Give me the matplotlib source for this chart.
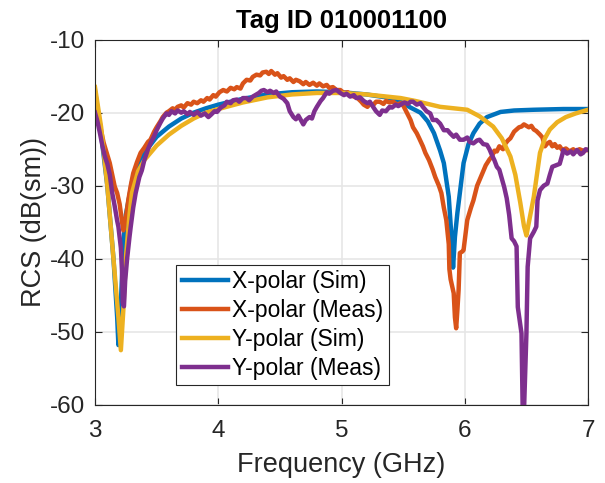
import matplotlib.pyplot as plt
import numpy as np

plt.rcParams['font.family'] = ['Liberation Sans', 'DejaVu Sans']
plt.rcParams['axes.unicode_minus'] = False

# X-polar (Sim)
xsim_f = [3.00, 3.05, 3.10, 3.15, 3.18, 3.19, 3.21, 3.23, 3.25, 3.30, 3.35, 3.40, 3.50, 3.60,
          3.70, 3.80, 3.90, 4.00, 4.20, 4.40, 4.60, 4.80, 5.00, 5.20, 5.40, 5.48, 5.56, 5.64,
          5.70, 5.75, 5.80, 5.83, 5.87, 5.89, 5.905, 5.92, 5.94, 5.99, 6.03, 6.07, 6.12, 6.18,
          6.29, 6.40, 6.56, 6.80, 7.00]
xsim_db = [-17.0, -23.0, -30.0, -40.0, -48.0, -51.8, -46.0, -38.0, -34.0, -29.5, -27.0, -25.5,
           -23.3, -21.9, -20.8, -20.0, -19.4, -18.9, -18.1, -17.5, -17.2, -17.1, -17.2, -17.5,
           -18.0, -18.5, -19.3, -20.0, -21.2, -22.8, -25.2, -26.9, -31.5, -36.5, -41.2, -37.0,
           -33.7, -26.9, -24.3, -22.8, -21.5, -20.6, -19.9, -19.7, -19.6, -19.5, -19.5]

# X-polar (Meas)
xmeas_f = [3.00, 3.03, 3.05, 3.07, 3.10, 3.12, 3.14, 3.16, 3.18, 3.20, 3.22, 3.23, 3.25, 3.27,
           3.29, 3.31, 3.34, 3.37, 3.40, 3.43, 3.45, 3.48, 3.50, 3.53, 3.55, 3.58, 3.60, 3.63,
           3.65, 3.67, 3.70, 3.72, 3.75, 3.78, 3.80, 3.83, 3.86, 3.88, 3.91, 3.93, 3.96, 3.98,
           4.01, 4.04, 4.07, 4.10, 4.13, 4.15, 4.18, 4.20, 4.23, 4.26, 4.28, 4.31, 4.34, 4.36,
           4.39, 4.41, 4.43, 4.46, 4.48, 4.51, 4.53, 4.56, 4.58, 4.61, 4.63, 4.66, 4.69, 4.71,
           4.74, 4.77, 4.80, 4.82, 4.85, 4.88, 4.90, 4.93, 4.96, 4.99, 5.02, 5.05, 5.08, 5.10,
           5.13, 5.16, 5.18, 5.21, 5.23, 5.26, 5.28, 5.31, 5.34, 5.36, 5.39, 5.42, 5.45, 5.48,
           5.50, 5.53, 5.56, 5.58, 5.61, 5.63, 5.66, 5.68, 5.71, 5.74, 5.76, 5.79, 5.81, 5.83,
           5.85, 5.87, 5.875, 5.885, 5.91, 5.92, 5.93, 5.94, 5.95, 5.96, 5.98, 5.99, 6.01, 6.02,
           6.05, 6.07, 6.10, 6.12, 6.15, 6.17, 6.20, 6.22, 6.24, 6.26, 6.28, 6.31, 6.33, 6.35,
           6.37, 6.40, 6.42, 6.44, 6.46, 6.48, 6.50, 6.52, 6.54, 6.56, 6.58, 6.61, 6.63, 6.65,
           6.67, 6.69, 6.71, 6.73, 6.75, 6.77, 6.79, 6.82, 6.85, 6.88, 6.90, 6.93, 6.96, 7.00]
xmeas_db = [-17.5, -20.5, -22.5, -24.1, -25.8, -26.9, -28.5, -30.1, -31.0, -32.5, -35.0, -36.1,
            -34.5, -32.0, -30.0, -28.3, -26.8, -25.5, -24.8, -24.0, -23.7, -22.6, -22.0, -21.2,
            -20.6, -20.0, -19.8, -19.4, -19.6, -19.2, -19.0, -19.3, -18.7, -18.9, -18.5, -18.7,
            -18.3, -18.5, -18.0, -18.2, -17.6, -17.8, -17.2, -16.9, -17.1, -16.6, -16.8, -16.5,
            -16.7, -16.0, -15.5, -15.6, -15.1, -14.8, -14.9, -14.5, -14.4, -14.7, -14.3, -14.8,
            -14.6, -15.2, -15.0, -15.5, -15.3, -15.8, -15.5, -15.7, -16.1, -15.8, -16.2, -15.9,
            -16.3, -16.0, -16.4, -16.2, -16.6, -16.5, -16.9, -16.9, -17.3, -17.2, -17.6, -17.8,
            -18.0, -18.5, -18.9, -19.2, -18.8, -18.9, -18.5, -18.5, -18.8, -18.4, -18.6, -18.5,
            -18.9, -18.7, -19.0, -20.0, -21.0, -22.0, -22.8, -23.5, -24.6, -25.5, -26.5, -27.8,
            -28.8, -30.0, -31.0, -33.0, -34.7, -38.0, -41.4, -42.8, -44.7, -48.0, -49.5, -47.0,
            -44.2, -39.2, -39.0, -38.8, -36.0, -34.7, -33.0, -32.0, -30.0, -29.2, -28.0, -27.2,
            -26.4, -26.0, -25.2, -25.3, -24.6, -25.0, -24.2, -23.8, -23.5, -22.6, -22.3, -22.0,
            -21.9, -21.6, -21.8, -22.0, -21.8, -22.3, -22.5, -23.0, -23.4, -24.6, -24.2, -24.0,
            -24.6, -24.3, -24.8, -24.6, -25.1, -24.9, -25.3, -25.0, -25.3, -25.0, -25.2, -25.1]

# Y-polar (Sim)
ysim_f = [3.00, 3.05, 3.10, 3.15, 3.19, 3.21, 3.23, 3.25, 3.28, 3.30, 3.35, 3.40, 3.50, 3.60,
          3.70, 3.80, 3.90, 4.00, 4.20, 4.40, 4.60, 4.80, 5.00, 5.20, 5.48, 5.60, 5.80, 6.02,
          6.12, 6.23, 6.30, 6.37, 6.41, 6.45, 6.48, 6.50, 6.52, 6.56, 6.61, 6.65, 6.69, 6.75,
          6.82, 6.90, 7.00]
ysim_db = [-16.5, -22.0, -30.0, -40.0, -48.0, -52.5, -47.0, -40.0, -34.0, -31.0, -28.0, -26.5,
           -24.5, -23.0, -21.8, -20.8, -20.0, -19.5, -18.6, -17.9, -17.5, -17.3, -17.3, -17.5,
           -18.0, -18.4, -19.2, -19.6, -20.5, -21.9, -23.5, -26.0, -28.5, -32.3, -35.5, -36.8,
           -35.0, -31.5, -25.5, -23.5, -22.3, -21.3, -20.6, -20.1, -19.6]

# Y-polar (Meas)
ymeas_f = [3.00, 3.02, 3.04, 3.06, 3.08, 3.10, 3.12, 3.14, 3.16, 3.18, 3.19, 3.21, 3.22, 3.225,
           3.235, 3.245, 3.26, 3.28, 3.29, 3.31, 3.33, 3.36, 3.38, 3.40, 3.43, 3.45, 3.48, 3.50,
           3.53, 3.55, 3.58, 3.60, 3.62, 3.65, 3.67, 3.70, 3.72, 3.75, 3.77, 3.80, 3.83, 3.86,
           3.89, 3.92, 3.94, 3.97, 3.99, 4.02, 4.05, 4.07, 4.10, 4.12, 4.15, 4.17, 4.20, 4.23,
           4.25, 4.28, 4.31, 4.33, 4.35, 4.37, 4.40, 4.42, 4.45, 4.47, 4.50, 4.53, 4.56, 4.58,
           4.61, 4.63, 4.65, 4.67, 4.69, 4.71, 4.74, 4.76, 4.78, 4.80, 4.83, 4.85, 4.88, 4.90,
           4.93, 4.96, 4.99, 5.02, 5.04, 5.07, 5.10, 5.12, 5.15, 5.18, 5.21, 5.23, 5.26, 5.28,
           5.31, 5.33, 5.36, 5.39, 5.41, 5.44, 5.46, 5.48, 5.51, 5.54, 5.56, 5.58, 5.61, 5.64,
           5.66, 5.69, 5.72, 5.74, 5.77, 5.80, 5.83, 5.86, 5.88, 5.91, 5.93, 5.96, 5.99, 6.02,
           6.04, 6.07, 6.10, 6.12, 6.15, 6.18, 6.20, 6.22, 6.24, 6.26, 6.28, 6.30, 6.32, 6.34,
           6.36, 6.38, 6.40, 6.42, 6.43, 6.46, 6.47, 6.48, 6.50, 6.51, 6.53, 6.56, 6.58, 6.59,
           6.61, 6.64, 6.67, 6.69, 6.71, 6.74, 6.77, 6.79, 6.80, 6.83, 6.86, 6.88, 6.91, 6.94,
           6.96, 6.98, 7.00]
ymeas_db = [-20.0, -21.2, -22.8, -24.5, -26.0, -27.0, -28.5, -31.0, -32.8, -34.8, -35.6, -38.5,
            -42.0, -46.0, -46.5, -43.0, -40.1, -37.0, -35.6, -33.0, -31.0, -28.8, -27.9, -26.5,
            -25.0, -24.2, -23.2, -22.4, -21.4, -20.8, -20.1, -20.3, -19.8, -20.1, -19.7, -20.0,
            -19.8, -20.2, -19.9, -20.3, -19.9, -20.4, -20.1, -20.6, -20.3, -19.8, -19.9, -19.3,
            -19.0, -18.5, -18.7, -18.3, -18.2, -18.5, -18.0, -18.0, -18.3, -17.8, -17.5, -17.3,
            -17.0, -16.9, -17.2, -17.0, -17.3, -17.1, -17.8, -18.1, -18.7, -19.8, -20.6, -20.9,
            -20.4, -21.0, -21.6, -21.0, -20.6, -20.8, -19.8, -19.2, -18.4, -18.0, -17.2, -17.4,
            -17.0, -16.9, -17.3, -17.6, -17.4, -17.8, -17.6, -18.0, -17.9, -18.4, -18.7, -18.5,
            -19.3, -19.8, -20.3, -19.7, -19.8, -19.2, -19.3, -18.9, -19.1, -18.9, -18.6, -18.8,
            -18.5, -18.5, -18.9, -18.7, -19.2, -19.8, -20.1, -21.0, -21.0, -21.5, -22.4, -22.4,
            -22.8, -23.3, -23.0, -23.7, -23.7, -23.4, -24.0, -24.2, -23.8, -23.7, -24.3, -24.4,
            -25.0, -25.8, -26.5, -27.4, -27.8, -29.0, -30.2, -31.7, -34.0, -37.2, -37.6, -38.3,
            -46.6, -50.2, -61.0, -61.0, -50.2, -41.1, -37.2, -36.3, -35.6, -32.0, -30.6, -30.0,
            -29.7, -28.5, -27.4, -27.2, -27.0, -25.8, -25.1, -25.6, -25.3, -25.7, -25.1, -25.7,
            -25.5, -25.0, -25.1]

series = [
    (xsim_f, xsim_db, '#0072BD', 'X-polar (Sim)'),
    (xmeas_f, xmeas_db, '#D95319', 'X-polar (Meas)'),
    (ysim_f, ysim_db, '#EDB120', 'Y-polar (Sim)'),
    (ymeas_f, ymeas_db, '#7E2F8E', 'Y-polar (Meas)'),
]

fig = plt.figure(figsize=(6.05, 4.83), dpi=100)
ax = fig.add_axes([0.157, 0.1615, 0.815, 0.7565])

for f, db, c, lab in series:
    ax.plot(f, db, color=c, lw=3.2, label=lab, solid_joinstyle='round')

ax.set_xlim(3, 7)
ax.set_ylim(-60, -10)
ax.set_xticks([3, 4, 5, 6, 7])
ax.set_yticks([-60, -50, -40, -30, -20, -10])
ax.grid(True, color='#e6e6e6', lw=1.2)
ax.set_axisbelow(True)
ax.tick_params(direction='in', length=5, width=0.8, top=True, right=True,
               labelsize=17.5, colors='#262626')
ax.tick_params(axis='x', pad=11)
ax.tick_params(axis='y', pad=7)
for sp in ax.spines.values():
    sp.set_color('#262626')
    sp.set_linewidth(0.8)

ax.set_xlabel('Frequency (GHz)', fontsize=19.5, color='#262626', labelpad=7)
ax.set_ylabel('RCS (dB(sm))', fontsize=19.5, color='#262626', labelpad=2)
ax.set_title('Tag ID 010001100', fontsize=18.5, fontweight='bold', pad=8)

leg = ax.legend(loc='upper left', bbox_to_anchor=(0.165, 0.384), borderaxespad=0,
                fontsize=16.5, fancybox=False, framealpha=1, edgecolor='#262626',
                handlelength=2.0, handletextpad=0.17, labelspacing=0.25, borderpad=0.25)
leg.get_frame().set_linewidth(0.8)

fig.savefig('out.png', dpi=100)
